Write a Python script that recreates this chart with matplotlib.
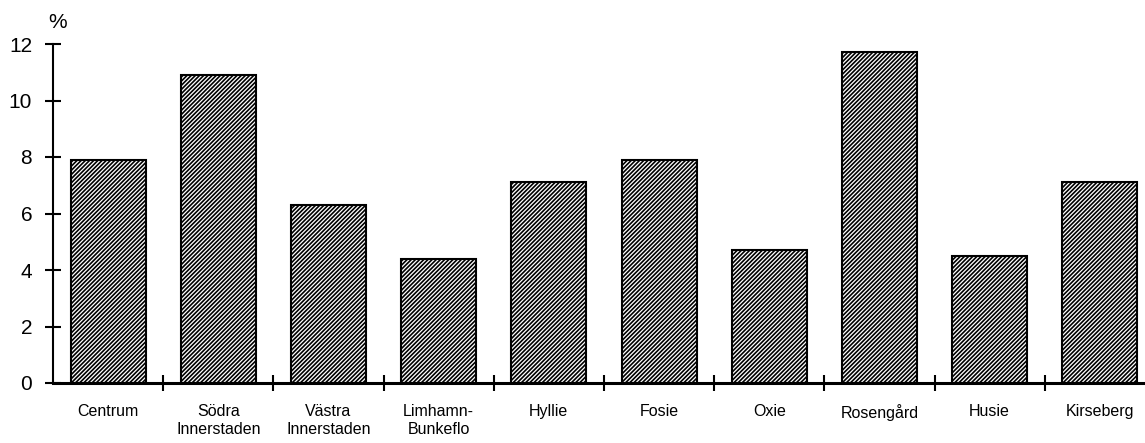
import matplotlib.pyplot as plt
from matplotlib.ticker import FixedLocator

plt.rcParams['font.family'] = ['Liberation Sans', 'DejaVu Sans']
plt.rcParams['hatch.linewidth'] = 1.2

districts = ["Centrum", "Södra\nInnerstaden", "Västra\nInnerstaden", "Limhamn-\nBunkeflo",
             "Hyllie", "Fosie", "Oxie", "Rosengård", "Husie", "Kirseberg"]
values = [7.9, 10.9, 6.3, 4.4, 7.1, 7.9, 4.7, 11.7, 4.5, 7.1]

fig = plt.figure(figsize=(11.45, 4.43), dpi=100)
ax = fig.add_axes([53 / 1145, 1 - 383 / 443, (1145 - 53) / 1145, (383 - 44) / 443])

x = range(len(districts))
ax.bar(x, values, width=0.68, color="white", edgecolor="black", linewidth=1.5,
       hatch="////////", zorder=2)

ax.set_xlim(-0.5, 9.41)
ax.set_ylim(0, 12)

for s in ["top", "right"]:
    ax.spines[s].set_visible(False)
ax.spines["left"].set_linewidth(1.5)
ax.spines["bottom"].set_linewidth(2.2)
ax.spines["bottom"].set_zorder(3)

ax.set_yticks([0, 2, 4, 6, 8, 10, 12])
ax.tick_params(axis="y", direction="inout", length=12, width=1.5, labelsize=15, pad=9)

ax.set_xticks(list(x))
ax.set_xticklabels(districts, fontsize=11.5, linespacing=1.25)
ax.tick_params(axis="x", length=0, pad=15)
ax.xaxis.set_minor_locator(FixedLocator([i + 0.5 for i in range(len(districts) - 1)]))
ax.tick_params(axis="x", which="minor", direction="inout", length=12, width=1.5)

for lab in ax.get_xticklabels():
    lab.set_verticalalignment("top")

fig.text(58 / 1145, 1 - 22 / 443, "%", fontsize=15, ha="center", va="center")

fig.savefig("out.png", dpi=100)
